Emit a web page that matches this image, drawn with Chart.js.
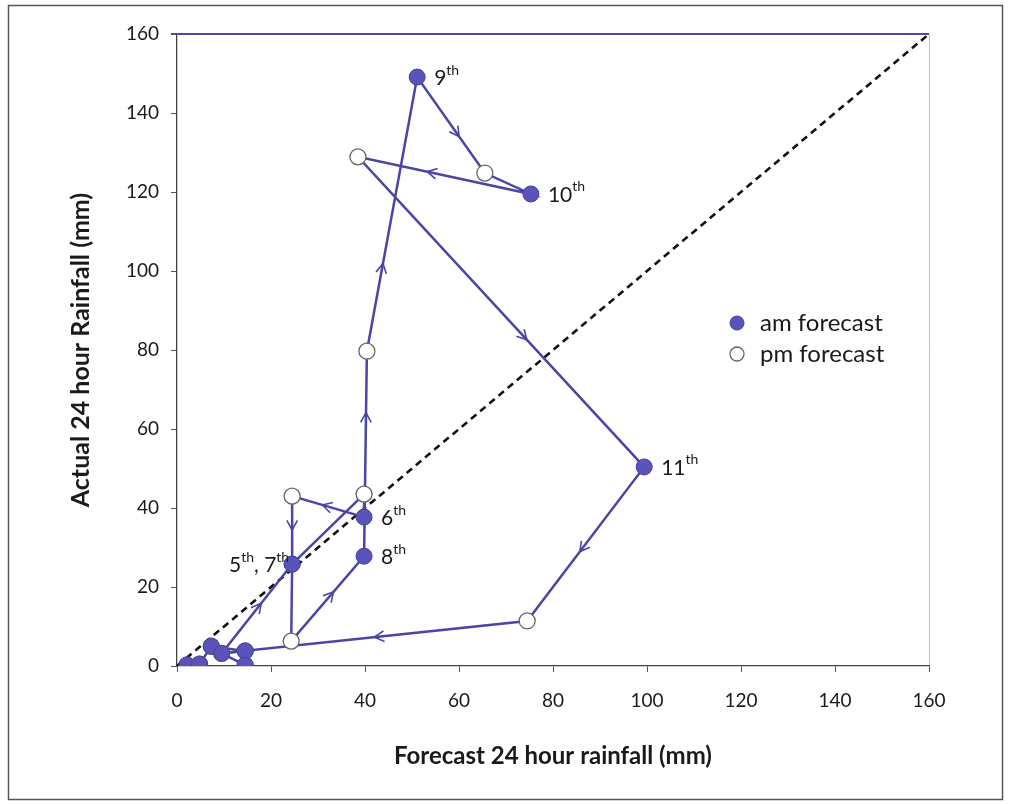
<!DOCTYPE html>
<html>
<head>
<meta charset="utf-8">
<script src="https://cdn.jsdelivr.net/npm/chart.js@4"></script>
<style>
  html, body { margin: 0; padding: 0; background: #fff; }
</style>
</head>
<body>
<canvas id="chart" width="1010" height="804"></canvas>
<script>
// Forecast vs actual 24h rainfall, one am and one pm value per day (days 1..13)
const amX = [2.1, 4.8, 7.3, 14.5, 24.5, 39.8, 24.5, 39.8, 51.1, 75.3, 99.4, 9.5, 14.5]
const amY = [0.3, 0.5, 5.0, 3.8, 25.8, 37.7, 25.8, 27.8, 149.1, 119.5, 50.4, 3.2, 0.2]
const pmX = [4.8, 7.3, 14.5, 9.5, 39.8, 24.5, 24.3, 40.4, 65.5, 38.5, 74.5, 14.5, null]
const pmY = [0.5, 5.0, 3.8, 3.2, 43.5, 43.0, 6.3, 79.7, 124.8, 128.9, 11.4, 0.2, null]
const dayLabels = ['', '', '', '', '5th, 7th', '6th', '', '8th', '9th', '10th', '11th', '', '']

// 1:1 line
const diagX = [0, 160]
const diagY = [0, 160]

const xTicks = [0, 20, 40, 60, 80, 100, 120, 140, 160]
const yTicks = [0, 20, 40, 60, 80, 100, 120, 140, 160]

// arrows on the path: [segment index, fraction along segment]
const arrows = [[7, 0.56], [10, 0.58], [11, 0.5], [13, 0.58], [14, 0.7], [15, 0.32],
  [16, 0.62], [18, 0.6], [19, 0.59], [20, 0.55], [21, 0.5]]

const lineColor = '#4a45a6'
const dotColor = '#5a54ba'

// chronological path: am then pm of each day
const path = []
amX.forEach((x, i) => {
  if (x != null) path.push({ x: x, y: amY[i] })
  if (pmX[i] != null) path.push({ x: pmX[i], y: pmY[i] })
})

const decorPlugin = {
  id: 'decor',
  beforeDraw(chart) {
    const ctx = chart.ctx
    ctx.save()
    ctx.fillStyle = '#fff'
    ctx.fillRect(0, 0, chart.width, chart.height)
    ctx.strokeStyle = '#555'
    ctx.lineWidth = 1.5
    ctx.strokeRect(8.5, 5.5, 994, 794)
    ctx.restore()
  },
  afterDatasetsDraw(chart) {
    const ctx = chart.ctx
    const pts = chart.getDatasetMeta(2).data
    ctx.save()
    ctx.strokeStyle = lineColor
    ctx.lineWidth = 1.6
    arrows.forEach(([i, f]) => {
      const a = pts[i], b = pts[i + 1]
      const x = a.x + (b.x - a.x) * f
      const y = a.y + (b.y - a.y) * f
      const ang = Math.atan2(b.y - a.y, b.x - a.x)
      const len = 11
      ctx.beginPath()
      ctx.moveTo(x - len * Math.cos(ang - 0.5), y - len * Math.sin(ang - 0.5))
      ctx.lineTo(x, y)
      ctx.lineTo(x - len * Math.cos(ang + 0.5), y - len * Math.sin(ang + 0.5))
      ctx.stroke()
    })
    ctx.restore()
  },
  afterDraw(chart) {
    const ctx = chart.ctx
    const am = chart.getDatasetMeta(0).data
    ctx.save()
    ctx.fillStyle = '#1a1a1a'
    ctx.textBaseline = 'middle'
    // day labels with superscript "th"
    dayLabels.forEach((lab, i) => {
      if (!lab) return
      const p = am[i]
      const parts = lab.split(/(th)/).filter(s => s)
      const widths = parts.map(s => {
        ctx.font = s === 'th' ? '14px Lato' : '21px Lato'
        return ctx.measureText(s).width
      })
      const total = widths.reduce((s, w) => s + w, 0)
      let x = lab.includes(',') ? p.x - 3 - total : p.x + 17
      parts.forEach((s, k) => {
        ctx.font = s === 'th' ? '14px Lato' : '21px Lato'
        ctx.fillText(s, x, s === 'th' ? p.y - 7 : p.y + 1)
        x += widths[k]
      })
    })
    // legend
    const items = [chart.data.datasets[0], chart.data.datasets[1]]
    items.forEach((ds, k) => {
      const lx = 737, ly = 323 + k * 31
      ctx.beginPath()
      ctx.arc(lx, ly, 7, 0, Math.PI * 2)
      ctx.fillStyle = ds.backgroundColor
      ctx.fill()
      ctx.lineWidth = ds.borderWidth
      ctx.strokeStyle = ds.borderColor
      ctx.stroke()
      ctx.fillStyle = '#1a1a1a'
      ctx.font = '24px Lato'
      ctx.fillText(ds.label, 760, ly)
    })
    ctx.restore()
  }
}

new Chart(document.getElementById('chart'), {
  type: 'scatter',
  data: {
    datasets: [
      {
        label: 'am forecast',
        data: amX.map((x, i) => ({ x: x, y: amY[i] })),
        backgroundColor: dotColor,
        borderColor: '#46419c',
        borderWidth: 1,
        pointRadius: 8,
        order: 0
      },
      {
        label: 'pm forecast',
        data: pmX.map((x, i) => ({ x: x, y: pmY[i] })).filter(p => p.x != null),
        backgroundColor: '#fff',
        borderColor: '#666',
        borderWidth: 1.3,
        pointRadius: 8,
        order: 1
      },
      {
        label: 'path',
        data: path,
        showLine: true,
        borderColor: lineColor,
        borderWidth: 2.5,
        pointRadius: 0,
        order: 2
      },
      {
        label: '1:1',
        data: diagX.map((x, i) => ({ x: x, y: diagY[i] })),
        showLine: true,
        borderColor: '#111',
        borderWidth: 2.6,
        borderDash: [7, 5],
        pointRadius: 0,
        order: 3
      }
    ]
  },
  options: {
    responsive: false,
    animation: false,
    layout: { padding: { left: 0, top: 34, right: 81, bottom: 0 } },
    plugins: {
      legend: { display: false },
      tooltip: { enabled: false }
    },
    scales: {
      x: {
        type: 'linear',
        min: 0,
        max: 160,
        afterBuildTicks: s => { s.ticks = xTicks.map(v => ({ value: v })) },
        afterFit: s => { s.height = 138 },
        ticks: { color: '#1a1a1a', font: { family: 'Lato', size: 19 }, padding: 17 },
        grid: {
          color: c => c.tick && c.tick.value === 160 ? '#c4c4c4' : 'rgba(0,0,0,0)',
          tickColor: '#555',
          tickLength: 6
        },
        border: { color: '#444', width: 1.3 },
        title: {
          display: true,
          text: 'Forecast 24 hour rainfall (mm)',
          color: '#1a1a1a',
          font: { family: 'Lato', size: 24, weight: 'bold' },
          padding: { top: 0, bottom: 33 }
        }
      },
      y: {
        type: 'linear',
        min: 0,
        max: 160,
        afterBuildTicks: s => { s.ticks = yTicks.map(v => ({ value: v })) },
        afterFit: s => { s.width = 177 },
        ticks: { color: '#1a1a1a', font: { family: 'Lato', size: 19 }, padding: 12 },
        grid: {
          color: c => c.tick && c.tick.value === 160 ? '#4e4aa8' : 'rgba(0,0,0,0)',
          lineWidth: c => c.tick && c.tick.value === 160 ? 2 : 1,
          tickColor: '#555',
          tickLength: 6
        },
        border: { color: '#444', width: 1.3 },
        title: {
          display: true,
          text: 'Actual 24 hour Rainfall (mm)',
          color: '#1a1a1a',
          font: { family: 'Lato', size: 25, weight: 'bold' },
          padding: { top: 66, bottom: 0 }
        }
      }
    }
  },
  plugins: [decorPlugin]
})
</script>
</body>
</html>
